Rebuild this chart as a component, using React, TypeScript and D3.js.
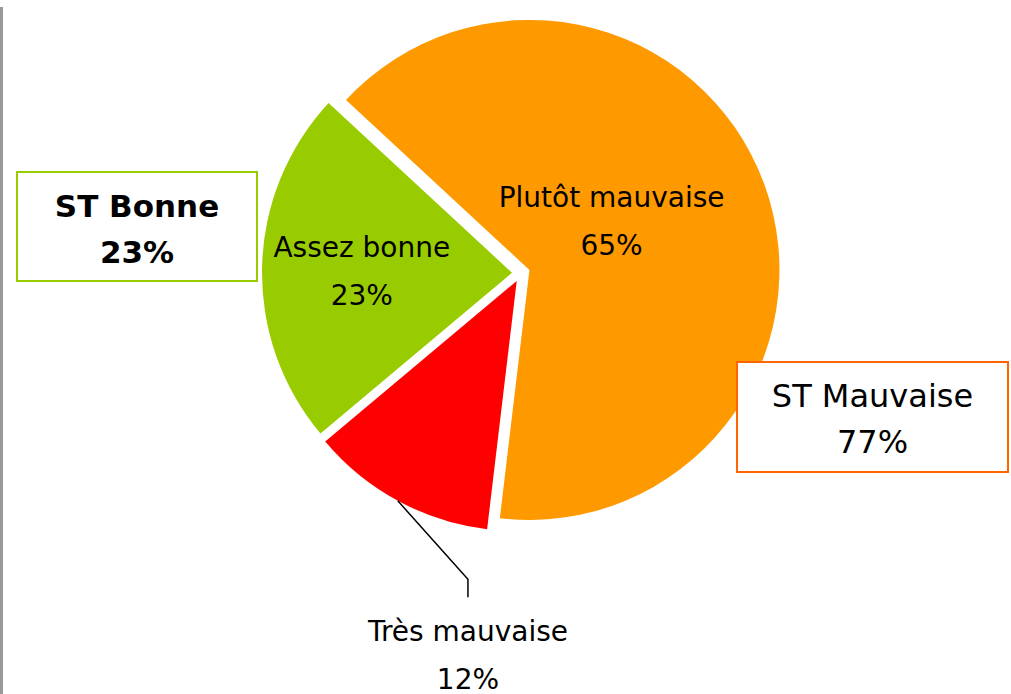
import React, { useEffect, useRef } from 'react';
import * as d3 from 'd3';

// Chart data
const categories = ['Plutôt mauvaise', 'Très mauvaise', 'Assez bonne'];
const values = [65, 12, 23];
const sliceColors = ['#FF9900', '#FF0000', '#99CC00'];

const summaryLabels = ['ST Bonne', 'ST Mauvaise'];
const summaryValues = [23, 77];

const App = () => {
    const svgRef = useRef(null);

    useEffect(() => {
        if (!svgRef.current) return;
        const width = 1011;
        const height = 694;
        const svg = d3.select(svgRef.current);
        svg.selectAll('*').remove();

        const font = '"DejaVu Sans", sans-serif';
        const fontSize = 28;
        const lineGap = 48;

        // Pie geometry
        const cx = 521;
        const cy = 273;
        const radius = 250;
        const explode = 9;
        const rad = (deg: number) => (deg * Math.PI) / 180;
        const start = rad(-47.2);

        const pie = d3.pie<number>().sort(null).startAngle(start).endAngle(start + 2 * Math.PI);
        const arcs = pie(values);
        const arc = d3.arc<d3.PieArcDatum<number>>().innerRadius(0).outerRadius(radius);

        const polar = (a: number, r: number) => [r * Math.sin(a), -r * Math.cos(a)];

        // left border line
        svg.append('line')
            .attr('x1', 1.5).attr('x2', 1.5)
            .attr('y1', 7).attr('y2', height)
            .attr('stroke', '#999').attr('stroke-width', 3);

        const g = svg.append('g').attr('transform', `translate(${cx},${cy})`);

        g.selectAll('path.slice')
            .data(arcs)
            .join('path')
            .attr('class', 'slice')
            .attr('transform', d => {
                const [dx, dy] = polar((d.startAngle + d.endAngle) / 2, explode);
                return `translate(${dx},${dy})`;
            })
            .attr('fill', (d, i) => sliceColors[i])
            .attr('d', arc);

        // label anchors (angle in degrees, radius from pie centre) for first line baseline
        const labelPos = [
            { angle: 54, r: 112 },
            { angle: 188.2, r: 372 },
            { angle: 275.7, r: 160 },
        ];

        arcs.forEach((d, i) => {
            const [lx, ly] = polar(rad(labelPos[i].angle), labelPos[i].r);
            const t = g.append('text')
                .attr('font-family', font)
                .attr('font-size', fontSize)
                .attr('fill', '#000')
                .attr('text-anchor', 'middle');
            t.append('tspan').attr('x', lx).attr('y', ly).text(categories[i]);
            t.append('tspan').attr('x', lx).attr('y', ly + lineGap).text(`${values[i]}%`);

            // leader line for the small outside label
            if (i === 1) {
                const mid = (d.startAngle + d.endAngle) / 2;
                const [ex, ey] = polar(mid, explode);
                const [sx, sy] = polar(mid, radius);
                const endY = ly - 44;
                const elbowY = endY - 18;
                g.append('path')
                    .attr('d', d3.line()([[sx + ex, sy + ey], [lx, elbowY], [lx, endY]]))
                    .attr('fill', 'none')
                    .attr('stroke', '#000')
                    .attr('stroke-width', 1.5);
            }
        });

        // summary boxes
        const boxes = [
            { x: 17, y: 172, w: 240, h: 109, stroke: '#99CC00', bold: true, size: 31 },
            { x: 737, y: 362, w: 271, h: 110, stroke: '#FF6600', bold: false, size: 32 },
        ];
        boxes.forEach((b, i) => {
            svg.append('rect')
                .attr('x', b.x).attr('y', b.y)
                .attr('width', b.w).attr('height', b.h)
                .attr('fill', '#fff')
                .attr('stroke', b.stroke)
                .attr('stroke-width', 2);
            const t = svg.append('text')
                .attr('font-family', font)
                .attr('font-size', b.size)
                .attr('font-weight', b.bold ? 'bold' : 'normal')
                .attr('text-anchor', 'middle')
                .attr('fill', '#000');
            t.append('tspan').attr('x', b.x + b.w / 2).attr('y', b.y + 45).text(summaryLabels[i]);
            t.append('tspan').attr('x', b.x + b.w / 2).attr('y', b.y + 91).text(`${summaryValues[i]}%`);
        });
    }, []);

    return (
        <div style={{ position: 'absolute', left: 0, top: 0, width: 1011, height: 694, background: '#fff' }}>
            <svg ref={svgRef} width={1011} height={694} style={{ display: 'block' }} />
        </div>
    );
};

export default App;
